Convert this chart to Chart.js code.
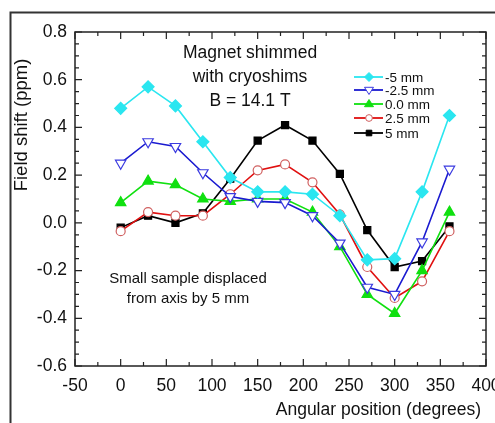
<!DOCTYPE html>
<html>
<head>
<meta charset="utf-8">
<script src="https://cdn.jsdelivr.net/npm/chart.js@4.4.0/dist/chart.umd.min.js"></script>
<style>
  html, body { margin: 0; padding: 0; background: #fff; }
  #wrap { width: 495px; height: 423px; position: relative; }
</style>
</head>
<body>
<div id="wrap"><canvas id="shiftChart"></canvas></div>
<script>
// Angular positions (degrees)
const angles = [0, 30, 60, 90, 120, 150, 180, 210, 240, 270, 300, 330, 360];

// Field shift (ppm) per sample displacement
const minus5mm = [0.48, 0.57, 0.49, 0.34, 0.19, 0.13, 0.13, 0.12, 0.03, -0.155, -0.15, 0.13, 0.45];
const minus2p5mm = [0.25, 0.34, 0.32, 0.21, 0.11, 0.09, 0.085, 0.03, -0.085, -0.27, -0.30, -0.08, 0.225];
const zeroMm = [0.085, 0.175, 0.16, 0.10, 0.09, 0.10, 0.10, 0.045, -0.10, -0.30, -0.38, -0.20, 0.045];
const plus2p5mm = [-0.035, 0.045, 0.03, 0.03, 0.12, 0.22, 0.245, 0.17, 0.035, -0.185, -0.315, -0.245, -0.035];
const plus5mm = [-0.02, 0.03, 0.0, 0.04, 0.185, 0.345, 0.41, 0.345, 0.205, -0.03, -0.185, -0.16, -0.015];

const seriesLabels = ['-5 mm', '-2.5 mm', '0.0 mm', '2.5 mm', '5 mm'];

// Axis tick values
const xTicks = [-50, 0, 50, 100, 150, 200, 250, 300, 350, 400];
const yTicks = [-0.6, -0.4, -0.2, 0.0, 0.2, 0.4, 0.6, 0.8];

const FONT = 'Liberation Sans, Arial, sans-serif';

function toPoints(values) {
    return angles.map((a, i) => ({ x: a, y: values[i] }));
}

function makeDataset(label, values, color, style) {
    return {
        label: label,
        data: toPoints(values),
        borderColor: color,
        borderWidth: 1.6,
        pointStyle: style.pointStyle,
        pointRotation: style.rotation || 0,
        pointRadius: style.radius,
        pointBackgroundColor: style.fill,
        pointBorderColor: style.stroke || color,
        pointBorderWidth: 1.2,
        tension: 0
    };
}

const datasets = [
    makeDataset(seriesLabels[0], minus5mm, '#2ae6f0', { pointStyle: 'rectRot', radius: 6, fill: '#2ae6f0' }),
    makeDataset(seriesLabels[1], minus2p5mm, '#1a1ad0', { pointStyle: 'triangle', rotation: 180, radius: 6, fill: '#ffffff', stroke: '#3a3ae0' }),
    makeDataset(seriesLabels[2], zeroMm, '#10e010', { pointStyle: 'triangle', radius: 6, fill: '#10e010' }),
    makeDataset(seriesLabels[3], plus2p5mm, '#e01010', { pointStyle: 'circle', radius: 4.5, fill: '#ffffff', stroke: '#d06060' }),
    makeDataset(seriesLabels[4], plus5mm, '#000000', { pointStyle: 'rect', radius: 5, fill: '#000000' })
];

// Small legend marker, drawn by hand
function legendMarker(ctx, ds, x, y) {
    const r = ds.pointRadius * 0.75;
    ctx.fillStyle = ds.pointBackgroundColor;
    ctx.strokeStyle = ds.pointBorderColor;
    ctx.lineWidth = 1;
    ctx.beginPath();
    if (ds.pointStyle === 'rectRot') {
        ctx.moveTo(x, y - r); ctx.lineTo(x + r, y); ctx.lineTo(x, y + r); ctx.lineTo(x - r, y);
    } else if (ds.pointStyle === 'triangle') {
        const s = ds.pointRotation === 180 ? -1 : 1;
        ctx.moveTo(x, y - s * r); ctx.lineTo(x + r, y + s * r * 0.6); ctx.lineTo(x - r, y + s * r * 0.6);
    } else if (ds.pointStyle === 'circle') {
        ctx.arc(x, y, r, 0, Math.PI * 2);
    } else {
        ctx.rect(x - r * 0.75, y - r * 0.75, r * 1.5, r * 1.5);
    }
    ctx.closePath();
    ctx.fill();
    ctx.stroke();
}

// Inward ticks, frame and custom text
const decorPlugin = {
    id: 'decor',
    afterDraw(chart) {
        const ctx = chart.ctx;
        const area = chart.chartArea;
        const xs = chart.scales.x;
        const ys = chart.scales.y;
        ctx.save();

        // plot box
        ctx.strokeStyle = '#222';
        ctx.lineWidth = 1.5;
        ctx.strokeRect(area.left, area.top, area.right - area.left, area.bottom - area.top);

        // ticks
        ctx.lineWidth = 1.2;
        ctx.beginPath();
        for (let v = -50; v <= 400; v += 25) {
            const px = xs.getPixelForValue(v);
            const len = (v % 50 === 0) ? 7 : 4;
            ctx.moveTo(px, area.bottom); ctx.lineTo(px, area.bottom - len);
            ctx.moveTo(px, area.top); ctx.lineTo(px, area.top + len);
        }
        for (let k = -12; k <= 16; k++) {
            const py = ys.getPixelForValue(k * 0.05);
            const len = (k % 4 === 0) ? 7 : 4;
            ctx.moveTo(area.left, py); ctx.lineTo(area.left + len, py);
            ctx.moveTo(area.right, py); ctx.lineTo(area.right - len, py);
        }
        ctx.stroke();

        // outer frame (cropped figure border)
        ctx.strokeStyle = '#333';
        ctx.lineWidth = 2;
        ctx.beginPath();
        ctx.moveTo(10.5, 423); ctx.lineTo(10.5, 12.5); ctx.lineTo(495, 12.5);
        ctx.stroke();

        // axis titles
        ctx.fillStyle = '#111';
        ctx.font = '17.5px ' + FONT;
        ctx.textAlign = 'right';
        ctx.textBaseline = 'middle';
        ctx.fillText('Angular position (degrees)', 481, 410);

        ctx.save();
        ctx.translate(22, 125);
        ctx.rotate(-Math.PI / 2);
        ctx.textAlign = 'center';
        ctx.font = '18.5px ' + FONT;
        ctx.fillText('Field shift (ppm)', 0, 0);
        ctx.restore();

        // annotations
        ctx.textAlign = 'center';
        ctx.font = '17.5px ' + FONT;
        ctx.fillText('Magnet shimmed', 250, 53);
        ctx.fillText('with cryoshims', 250, 77);
        ctx.fillText('B = 14.1 T', 250, 101);

        ctx.font = '15px ' + FONT;
        ctx.fillText('Small sample displaced', 188, 279);
        ctx.fillText('from axis by 5 mm', 188, 299);

        // legend
        const rowY = [77, 90, 104, 118, 133];
        ctx.font = '13.5px ' + FONT;
        chart.data.datasets.forEach((ds, i) => {
            const y = rowY[i];
            ctx.strokeStyle = ds.borderColor;
            ctx.lineWidth = 1.8;
            ctx.beginPath();
            ctx.moveTo(354, y); ctx.lineTo(383, y);
            ctx.stroke();
            legendMarker(ctx, ds, 369, y);
            ctx.fillStyle = '#111';
            ctx.textAlign = 'left';
            ctx.fillText(ds.label, 385, y + 1);
        });

        ctx.restore();
    }
};

new Chart(document.getElementById('shiftChart'), {
    type: 'line',
    data: { datasets: datasets },
    plugins: [decorPlugin],
    options: {
        responsive: true,
        maintainAspectRatio: false,
        animation: false,
        layout: { padding: { top: 32, right: 9, left: 0, bottom: 0 } },
        plugins: {
            legend: { display: false },
            tooltip: { enabled: false }
        },
        scales: {
            x: {
                type: 'linear',
                min: -50,
                max: 400,
                afterBuildTicks: (scale) => { scale.ticks = xTicks.map(v => ({ value: v })); },
                afterFit: (scale) => { scale.height = 57; scale.paddingLeft = 0; scale.paddingRight = 0; },
                grid: { display: false },
                border: { display: false },
                ticks: {
                    color: '#111',
                    padding: 2,
                    font: { family: FONT, size: 17.5 },
                    maxRotation: 0,
                    autoSkip: false
                }
            },
            y: {
                type: 'linear',
                min: -0.6,
                max: 0.8,
                afterBuildTicks: (scale) => { scale.ticks = yTicks.map(v => ({ value: v })); },
                afterFit: (scale) => { scale.width = 75; scale.paddingTop = 0; scale.paddingBottom = 0; },
                grid: { display: false },
                border: { display: false },
                ticks: {
                    color: '#111',
                    padding: 0,
                    font: { family: FONT, size: 17.5 },
                    callback: (v) => Number(v).toFixed(1)
                }
            }
        }
    }
});
</script>
</body>
</html>
